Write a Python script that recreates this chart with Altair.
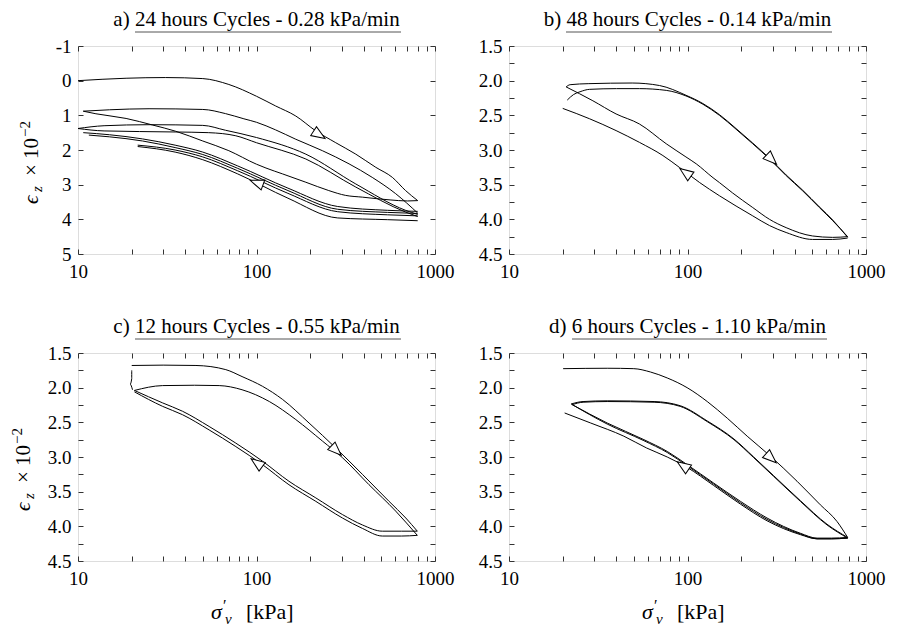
import altair as alt
import pandas as pd

FONT = "Liberation Serif"

# ---------------- data ----------------
# Panel a) 24 hours cycles
a_L1_x = [10, 18.6, 31, 50, 70, 100, 128, 166, 215, 278, 360, 466, 577, 684, 800]
a_L1_y = [0.0, -0.07, -0.09, -0.06, 0.11, 0.45, 0.73, 1.02, 1.45, 1.79, 2.12, 2.5, 2.79, 3.17, 3.46]
a_U1_x = [800, 700, 560, 392, 316, 254, 189, 140, 113, 100, 70, 50, 35.3, 26.2, 18.6, 12.6, 10.7]
a_U1_y = [3.46, 3.47, 3.44, 3.36, 3.31, 3.17, 2.93, 2.69, 2.52, 2.41, 2.02, 1.74, 1.46, 1.28, 1.09, 0.955, 0.88]
a_L2_x = [10.7, 15, 25, 50, 67, 85, 100, 128, 166, 234, 330, 445, 602, 800]
a_L2_y = [0.88, 0.84, 0.81, 0.83, 0.95, 1.1, 1.2, 1.42, 1.69, 2.02, 2.4, 2.79, 3.26, 3.82]
a_L3_x = [10, 14, 25, 50, 67, 100, 189, 360, 684, 800]
a_L3_y = [1.38, 1.3, 1.27, 1.29, 1.43, 1.64, 2.12, 2.98, 3.74, 3.86]
a_L4_x = [10, 14, 35, 54, 76.6, 100, 189, 360, 684, 800]
a_L4_y = [1.38, 1.45, 1.48, 1.5, 1.59, 1.79, 2.26, 3.07, 3.79, 3.92]
a_UA_x = [10.7, 15, 23, 35, 50, 78.5, 150, 285, 543, 800]
a_UA_y = [1.5, 1.56, 1.68, 1.86, 2.06, 2.46, 3.1, 3.63, 3.74, 3.77]
a_UB_x = [11.5, 15, 23, 35, 50, 78.5, 150, 285, 543, 800]
a_UB_y = [1.57, 1.62, 1.74, 1.93, 2.13, 2.53, 3.17, 3.71, 3.8, 3.83]
a_UC_x = [21.6, 35, 50, 78.5, 150, 285, 543, 800]
a_UC_y = [1.86, 2.0, 2.2, 2.6, 3.25, 3.78, 3.87, 3.9]
a_UD_x = [21.6, 35, 50, 78.5, 150, 285, 543, 800]
a_UD_y = [1.9, 2.06, 2.28, 2.69, 3.39, 3.96, 4.01, 4.04]
a_arrow_x = [223, 101]
a_arrow_y = [1.55, 2.95]
a_arrow_angle = [123, 290]

# Panel b) 48 hours cycles
b_L1_x = [21.2, 23, 25, 28.3, 40, 53.8, 76, 98, 122, 151, 187, 232, 288, 357, 442, 548, 651, 789]
b_L1_y = [2.28, 2.2, 2.16, 2.125, 2.115, 2.115, 2.14, 2.22, 2.34, 2.5, 2.7, 2.91, 3.13, 3.37, 3.59, 3.83, 4.02, 4.25]
b_U1_x = [789, 650, 502, 357, 288, 232, 179, 151, 139, 112, 98, 76, 53.8, 39.8, 29.5, 20.9]
b_U1_y = [4.25, 4.26, 4.24, 4.12, 4.0, 3.83, 3.62, 3.47, 3.4, 3.2, 3.1, 2.91, 2.625, 2.48, 2.29, 2.09]
b_L2_x = [20.9, 22, 28, 49, 69.7, 98, 122, 151, 187, 232, 288, 357, 442, 548, 651, 789]
b_L2_y = [2.09, 2.058, 2.043, 2.034, 2.07, 2.21, 2.33, 2.49, 2.69, 2.9, 3.12, 3.36, 3.58, 3.82, 4.01, 4.26]
b_U2_x = [789, 650, 502, 357, 288, 232, 151, 117, 90, 72.8, 53.8, 39.8, 28.3, 20]
b_U2_y = [4.27, 4.29, 4.29, 4.19, 4.09, 3.95, 3.66, 3.47, 3.25, 3.08, 2.89, 2.72, 2.55, 2.4]
b_arrow_x = [294, 98]
b_arrow_y = [3.13, 3.33]
b_arrow_angle = [134, 306]

# Panel c) 12 hours cycles
c_V_x = [20, 20, 19.6, 20.2]
c_V_y = [1.75, 1.87, 1.95, 2.03]
c_L1_x = [20, 30, 45.8, 67.3, 83, 108, 140, 197, 278, 392, 553, 686, 796]
c_L1_y = [1.68, 1.675, 1.68, 1.74, 1.84, 1.98, 2.17, 2.51, 2.87, 3.25, 3.64, 3.88, 4.07]
c_U1_x = [796, 650, 507, 392, 303, 215, 152, 108, 76.6, 54.3, 38.5, 29.8, 20.7]
c_U1_y = [4.07, 4.07, 4.07, 3.98, 3.83, 3.59, 3.35, 3.06, 2.8, 2.56, 2.34, 2.22, 2.04]
c_L2_x = [20.7, 29.8, 45, 61.8, 83, 118, 166, 234, 303, 427, 602, 796]
c_L2_y = [2.04, 1.97, 1.965, 1.97, 2.03, 2.2, 2.46, 2.77, 3.01, 3.4, 3.78, 4.13]
c_U2_x = [796, 650, 507, 392, 303, 215, 152, 108, 76.6, 54.3, 38.5, 29.8, 20.7]
c_U2_y = [4.13, 4.14, 4.14, 4.03, 3.88, 3.64, 3.4, 3.11, 2.85, 2.61, 2.39, 2.27, 2.06]
c_arrow_x = [278, 101]
c_arrow_y = [2.9, 3.09]
c_arrow_angle = [134, 306]

# Panel d) 6 hours cycles
d_L1_x = [20.1, 35.5, 50, 62, 77, 99.5, 129, 167, 216, 292, 411, 555, 688, 789]
d_L1_y = [1.726, 1.72, 1.726, 1.774, 1.86, 2.0, 2.2, 2.44, 2.7, 2.99, 3.35, 3.69, 3.93, 4.16]
d_U1_x = [789, 640, 532, 429, 279, 198, 140, 99.5, 77, 57, 35.5, 22.6]
d_U1_y = [4.16, 4.17, 4.17, 4.1, 3.88, 3.64, 3.375, 3.11, 2.92, 2.75, 2.51, 2.245]
d_L2_x = [22.6, 26, 35.5, 65, 91, 129, 182, 235, 304, 429, 605, 789]
d_L2_y = [2.245, 2.21, 2.2, 2.21, 2.27, 2.49, 2.75, 3.01, 3.28, 3.64, 3.98, 4.17]
d_U2_x = [789, 640, 532, 429, 279, 198, 140, 99.5, 77, 57, 35.5, 22.3]
d_U2_y = [4.17, 4.18, 4.18, 4.11, 3.9, 3.66, 3.39, 3.125, 2.935, 2.765, 2.525, 2.235]
d_L3_x = [22.3, 26, 35.5, 65, 91, 129, 182, 235, 304, 429, 605, 789]
d_L3_y = [2.235, 2.2, 2.19, 2.2, 2.26, 2.48, 2.74, 3.0, 3.27, 3.63, 3.97, 4.16]
d_U3_x = [789, 640, 532, 429, 279, 198, 140, 99.5, 77, 59, 44, 28.7, 20.5]
d_U3_y = [4.17, 4.18, 4.18, 4.12, 3.92, 3.68, 3.41, 3.15, 3.0, 2.87, 2.7, 2.51, 2.365]
d_arrow_x = [292, 95]
d_arrow_y = [3.01, 3.13]
d_arrow_angle = [132, 304]

titles = ["a) 24 hours Cycles - 0.28 kPa/min",
          "b) 48 hours Cycles - 0.14 kPa/min",
          "c) 12 hours Cycles - 0.55 kPa/min",
          "d) 6 hours Cycles - 1.10 kPa/min"]
x_ticks = [10, 20, 30, 40, 50, 60, 70, 80, 90, 100, 200, 300, 400, 500, 600, 700, 800, 900, 1000]
ya_ticks = [-1, 0, 1, 2, 3, 4, 5]
yb_ticks = [1.5, 1.75, 2.0, 2.25, 2.5, 2.75, 3.0, 3.25, 3.5, 3.75, 4.0, 4.25, 4.5]

# ---------------- helpers ----------------
W, H = 357, 208
TICK = 5
ARROW = "M0,-1L0.7,0.8L-0.7,0.8Z"
LABEL_SIZE = 19
TITLE_SIZE = 21


def lines_df(series):
    rows = []
    for name, xs, ys in series:
        for i, (x, y) in enumerate(zip(xs, ys)):
            rows.append({"s": name, "i": i, "x": x, "y": y})
    return pd.DataFrame(rows)


def txt(t, x, y, size, italic=False, angle=0):
    return alt.Chart(pd.DataFrame({"t": [t]})).mark_text(
        font=FONT, fontSize=size, fontStyle="italic" if italic else "normal",
        align="left", baseline="alphabetic", angle=angle, color="black").encode(
        text="t:N", x=alt.value(x), y=alt.value(y))


def panel(series, arrows, title, ydom, yvals, ylabexpr, underline, ytitle_dx=None, xtitle=False):
    df = lines_df(series)
    xscale = alt.Scale(type="log", domain=[10, 1000], nice=False)
    yscale = alt.Scale(domain=ydom, reverse=True, nice=False, zero=False)
    common = dict(domain=False, grid=False, title=None, ticks=True, tickSize=TICK,
                  offset=-TICK, tickColor="#333", tickWidth=1)
    xax = alt.Axis(orient="bottom", values=x_ticks,
                   labelExpr="(datum.value == 10 || datum.value == 100 || datum.value == 1000) ? toString(datum.value) : ''",
                   labelFont=FONT, labelFontSize=LABEL_SIZE, labelColor="black", labelPadding=8,
                   labelOverlap=False, labelFlush=False, **common)
    yax = alt.Axis(orient="left", values=yvals, labelExpr=ylabexpr,
                   labelFont=FONT, labelFontSize=LABEL_SIZE, labelColor="black", labelPadding=7,
                   labelOverlap=False, **common)
    xax2 = alt.Axis(orient="top", values=x_ticks, labels=False, **common)
    yax2 = alt.Axis(orient="right", values=yvals, labels=False, **common)

    lines = alt.Chart(df).mark_line(color="black", strokeWidth=1, interpolate="monotone").encode(
        x=alt.X("x:Q", scale=xscale, axis=xax),
        y=alt.Y("y:Q", scale=yscale, axis=yax),
        detail="s:N", order="i:Q")
    mirror = alt.Chart(df).mark_line(opacity=0).encode(
        x=alt.X("x:Q", scale=xscale, axis=xax2),
        y=alt.Y("y:Q", scale=yscale, axis=yax2),
        detail="s:N", order="i:Q")
    adf = pd.DataFrame({"x": arrows[0], "y": arrows[1], "a": arrows[2]})
    arr = alt.Chart(adf).mark_point(shape=ARROW, size=230, filled=True, fill="white",
                                    stroke="black", strokeWidth=1, opacity=1).encode(
        x=alt.X("x:Q", scale=xscale, axis=None),
        y=alt.Y("y:Q", scale=yscale, axis=None),
        angle=alt.Angle("a:Q", scale=None))
    ul = alt.Chart(pd.DataFrame({"u": [0]})).mark_rule(color="#555", strokeWidth=1).encode(
        x=alt.value(underline[0]), x2=alt.value(underline[1]), y=alt.value(-14))
    layers = [lines, mirror, arr, ul]

    if ytitle_dx is not None:
        bx = ytitle_dx
        layers += [txt("ϵ", bx, 158, 21, True, 270),
                   txt("z", bx + 4, 146, 15, True, 270),
                   txt("× 10", bx, 130, 21, False, 270),
                   txt("−2", bx - 8, 91, 15, False, 270)]
    if xtitle:
        layers += [txt("σ", 133, 266, 22, True),
                   txt("′", 145, 258, 16),
                   txt("v", 147, 271, 15, True),
                   txt("[kPa]", 168, 266, 22)]

    return alt.layer(*layers).resolve_axis(x="independent", y="independent").properties(
        width=W, height=H,
        title=alt.TitleParams(title, font=FONT, fontSize=TITLE_SIZE, fontWeight="normal",
                              color="black", anchor="middle", offset=2))


lab_a = "toString(datum.value)"
lab_b = "(datum.value * 2) % 1 == 0 ? format(datum.value, '.1f') : ''"

pa = panel([("L1", a_L1_x, a_L1_y), ("U1", a_U1_x, a_U1_y), ("L2", a_L2_x, a_L2_y),
            ("L3", a_L3_x, a_L3_y), ("L4", a_L4_x, a_L4_y), ("UA", a_UA_x, a_UA_y),
            ("UB", a_UB_x, a_UB_y), ("UC", a_UC_x, a_UC_y), ("UD", a_UD_x, a_UD_y)],
           (a_arrow_x, a_arrow_y, a_arrow_angle), titles[0], [-1, 5], ya_ticks, lab_a,
           (57, 323), ytitle_dx=-40)
pb = panel([("L1", b_L1_x, b_L1_y), ("U1", b_U1_x, b_U1_y), ("L2", b_L2_x, b_L2_y),
            ("U2", b_U2_x, b_U2_y)],
           (b_arrow_x, b_arrow_y, b_arrow_angle), titles[1], [1.5, 4.5], yb_ticks, lab_b,
           (57, 323))
pc = panel([("V", c_V_x, c_V_y), ("L1", c_L1_x, c_L1_y), ("U1", c_U1_x, c_U1_y),
            ("L2", c_L2_x, c_L2_y), ("U2", c_U2_x, c_U2_y)],
           (c_arrow_x, c_arrow_y, c_arrow_angle), titles[2], [1.5, 4.5], yb_ticks, lab_b,
           (57, 323), ytitle_dx=-48, xtitle=True)
pd_ = panel([("L1", d_L1_x, d_L1_y), ("U1", d_U1_x, d_U1_y), ("L2", d_L2_x, d_L2_y),
             ("U2", d_U2_x, d_U2_y), ("L3", d_L3_x, d_L3_y), ("U3", d_U3_x, d_U3_y)],
            (d_arrow_x, d_arrow_y, d_arrow_angle), titles[3], [1.5, 4.5], yb_ticks, lab_b,
            (63, 318), xtitle=True)

chart = alt.vconcat(
    alt.hconcat(pa, pb, spacing=22),
    alt.hconcat(pc, pd_, spacing=22),
    spacing=33,
).properties(padding={"left": 1, "top": 0, "right": 0, "bottom": 0}).configure_view(
    stroke="black", strokeWidth=1).configure(background="white")

chart.save("out.html", embed_options={"renderer": "svg", "actions": False})
